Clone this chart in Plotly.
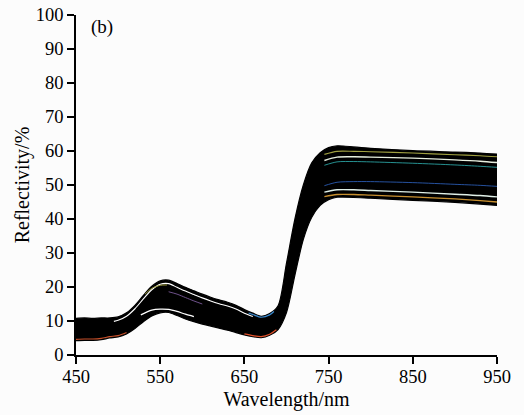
import plotly.graph_objects as go

# Wavelength grid (nm) for the spectral envelope
wavelength = [450, 460, 470, 480, 490, 500, 510, 520, 530, 540, 550, 560, 570, 580,
              590, 600, 610, 620, 630, 640, 650, 660, 670, 680, 690, 700, 710, 720,
              730, 740, 750, 760, 770, 800, 850, 900, 930, 950]

# Upper and lower bounds of the reflectance spectra (%)
refl_upper = [10.8, 10.9, 10.8, 10.9, 10.9, 11.2, 12.4, 14.6, 17.5, 20.2, 21.8, 22.0, 21.0, 19.9,
              18.9, 17.9, 17.0, 16.2, 15.5, 14.6, 13.4, 12.3, 11.4, 12.2, 14.5, 27.0, 40.0, 50.0,
              56.5, 59.5, 61.0, 61.5, 61.4, 60.8, 60.1, 59.7, 59.4, 59.1]
refl_lower = [4.2, 4.3, 4.3, 4.5, 5.0, 5.3, 6.2, 7.8, 9.8, 11.5, 12.4, 12.5, 11.6, 10.6,
              9.8, 9.1, 8.5, 7.9, 7.3, 6.6, 5.9, 5.4, 5.1, 5.8, 7.5, 12.5, 23.5, 34.0,
              40.5, 44.0, 45.7, 46.4, 46.4, 46.1, 45.5, 44.9, 44.4, 44.0]

# Individual spectra visible on top of the band (visible region)
vis_top_wl = [495, 500, 510, 520, 530, 540, 550, 560, 570, 580, 590, 600, 610, 620, 630, 640, 650, 660]
vis_top_white = [9.9, 10.2, 11.4, 13.6, 16.5, 19.2, 20.8, 21.0, 19.9, 18.8, 17.8, 16.8, 15.9, 15.1,
                 14.4, 13.5, 12.3, 11.3]
vis_low_wl = [527, 540, 550, 560, 570, 580, 590]
vis_low_white = [11.8, 13.2, 13.5, 13.4, 12.8, 12.0, 11.3]
vis_olive_wl = [532, 540, 550, 558]
vis_olive = [17.9, 19.6, 20.5, 20.6]
vis_purple_wl = [560, 570, 580, 590, 600]
vis_purple = [18.6, 17.9, 16.9, 15.9, 15.0]
vis_red_wl = [450, 460, 470, 480, 490, 500, 510]
vis_red = [4.6, 4.7, 4.7, 4.9, 5.4, 5.7, 6.6]
edge_blue_wl = [655, 660, 670, 680, 685]
edge_blue = [12.3, 11.9, 11.1, 11.8, 12.8]
edge_red_wl = [650, 660, 670, 680, 688]
edge_red = [6.2, 5.7, 5.4, 6.1, 7.4]

# Individual spectra visible on top of the band (near-infrared plateau)
nir_wl = [745, 760, 780, 800, 850, 900, 930, 950]
nir_olive = [59.0, 59.9, 59.9, 59.8, 59.4, 58.9, 58.6, 58.3]
nir_white = [57.2, 58.2, 58.3, 58.2, 57.9, 57.4, 57.0, 56.6]
nir_teal = [55.8, 56.8, 56.9, 56.8, 56.4, 55.9, 55.5, 55.2]
nir_blue = [49.8, 50.8, 51.0, 51.0, 50.7, 50.2, 49.9, 49.6]
nir_white_low = [47.9, 48.6, 48.6, 48.4, 47.9, 47.3, 46.9, 46.5]
nir_orange = [46.6, 47.2, 47.2, 47.0, 46.5, 45.9, 45.4, 45.0]

x_ticks = [450, 550, 650, 750, 850, 950]
y_ticks = [0, 10, 20, 30, 40, 50, 60, 70, 80, 90, 100]

FONT = "Liberation Serif"

fig = go.Figure()

fig.add_trace(go.Scatter(x=wavelength, y=refl_lower, mode="lines",
                         line=dict(color="black", width=1.2, shape="spline", smoothing=0.8),
                         hoverinfo="skip", showlegend=False))
fig.add_trace(go.Scatter(x=wavelength, y=refl_upper, mode="lines", fill="tonexty",
                         fillcolor="black",
                         line=dict(color="black", width=1.2, shape="spline", smoothing=0.8),
                         hoverinfo="skip", showlegend=False))


def add_line(xs, ys, color, width):
    fig.add_trace(go.Scatter(x=xs, y=ys, mode="lines",
                             line=dict(color=color, width=width, shape="spline", smoothing=0.8),
                             hoverinfo="skip", showlegend=False))


add_line(vis_top_wl, vis_top_white, "white", 1.1)
add_line(vis_low_wl, vis_low_white, "white", 1.3)
add_line(vis_olive_wl, vis_olive, "#9a9a3a", 1.0)
add_line(vis_purple_wl, vis_purple, "#7a5a9a", 0.9)
add_line(vis_red_wl, vis_red, "#c8502a", 1.1)
add_line(edge_blue_wl, edge_blue, "#3a8ad0", 1.2)
add_line(edge_red_wl, edge_red, "#e0502a", 1.2)

add_line(nir_wl, nir_olive, "#a0a040", 1.1)
add_line(nir_wl, nir_white, "#e8f0e0", 1.4)
add_line(nir_wl, nir_teal, "#2aa0a0", 0.9)
add_line(nir_wl, nir_blue, "#2a5ab0", 0.9)
add_line(nir_wl, nir_white_low, "#e0f0e8", 1.4)
add_line(nir_wl, nir_orange, "#c89030", 1.3)

fig.add_annotation(text="(b)", x=0.031, y=0.965, xref="paper", yref="paper",
                   xanchor="left", yanchor="middle", showarrow=False,
                   font=dict(family=FONT, size=19, color="black"))

axis_common = dict(showgrid=False, zeroline=False, showline=True, linecolor="black",
                   linewidth=1.5, ticks="outside", ticklen=7, tickwidth=1.5,
                   tickcolor="black", tickfont=dict(family=FONT, size=18.5, color="black"))

fig.update_xaxes(range=[450, 950], tickvals=x_ticks, ticktext=[str(v) for v in x_ticks],
                 ticklabelstandoff=-3,
                 title=dict(text="Wavelength/nm", font=dict(family=FONT, size=20, color="black"),
                            standoff=6),
                 **axis_common)
fig.update_yaxes(range=[0, 100], tickvals=y_ticks, ticktext=[str(v) for v in y_ticks],
                 title=dict(text="Reflectivity/%", font=dict(family=FONT, size=20, color="black"),
                            standoff=1),
                 **axis_common)

fig.update_layout(width=524, height=415, margin=dict(l=76, r=27, t=15, b=60, autoexpand=False),
                  paper_bgcolor="#fcfcfc", plot_bgcolor="#fcfcfc", showlegend=False)

fig.write_html("out.html")
